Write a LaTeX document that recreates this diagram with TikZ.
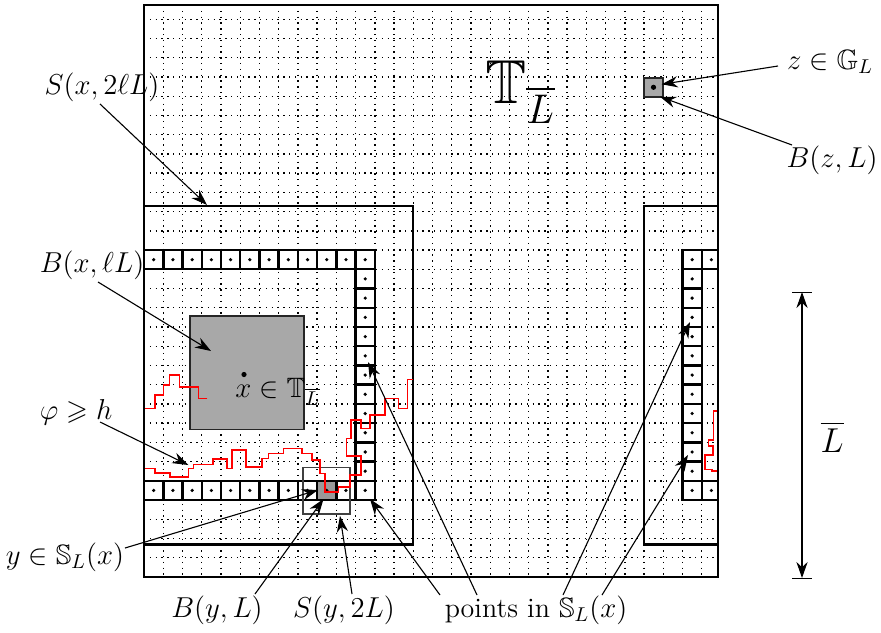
\documentclass[tikz,border=0pt]{standalone}
\usepackage{amsmath,amssymb}
\usetikzlibrary{arrows.meta}
\newcommand\rcell[2]{%
  \draw[ringcell] ({163.3+19.23*#1},{19.3+19.23*#2}) rectangle ++(19.23,19.23);
  \fill ({163.3+19.23*(#1+0.5)},{19.3+19.23*(#2+0.5)}) circle[radius=0.9pt];}
\begin{document}
\begin{tikzpicture}[x=0.5pt,y=-0.5pt,
  font=\fontsize{14}{16}\selectfont,
  arr/.style={-{Stealth[length=8pt,width=5.6pt,inset=2.6pt]}, line width=0.55pt},
  griddot/.style={line width=0.7pt, dash pattern=on 0.7pt off 2.2pt},
  ringcell/.style={draw, line width=1.2pt},
  bigbox/.style={line width=1.1pt},
  redpath/.style={draw=red, line width=0.8pt},
  lab/.style={inner sep=1pt}]
\useasboundingbox (0,0) rectangle (881,632);
\begin{scope}
\clip (144,5) rectangle (718,577);
\foreach \i in {0,...,28} {
  \draw[griddot] ({163.3+19.23*\i},5) -- ({163.3+19.23*\i},577);
  \draw[griddot] (144,{19.3+19.23*\i}) -- (718,{19.3+19.23*\i});
}
% B(x, lL)
\draw[fill=black!34, draw=black!85, line width=0.9pt] (190,316) rectangle (304.3,429.5);
\fill (244,374.5) circle[radius=1.3pt];
% B(z,L)
\draw[fill=black!34, draw=black!85, line width=0.9pt] (644,77.6) rectangle (663.3,96.8);
\fill (653.5,87.3) circle[radius=1.3pt];
% y cell
\fill[black!40] (317.1,480.8) rectangle (336.4,500.05);
% ring cells
\foreach \i in {-1,...,10} { \rcell{\i}{12} \rcell{\i}{24} }
\foreach \j in {13,...,23} { \rcell{10}{\j} \rcell{27}{\j} }
\rcell{27}{12} \rcell{27}{24} \rcell{28}{12} \rcell{28}{24}
% S(y,2L)
\draw[black!75, line width=0.7pt] (303,467.7) rectangle (350,514);
% S(x, 2lL)
\draw[bigbox] (144,206) -- (413.3,206) -- (413.3,544.5) -- (144,544.5);
\draw[bigbox] (718,206) -- (644,206) -- (644,544.5) -- (718,544.5);
% red paths
\draw[redpath] (207.3,398.3) -- (198.3,398.3) -- (198.3,386.7) -- (179.3,386.7) -- (179.3,375) -- (169.5,375) -- (169.5,385) -- (163.3,385) -- (163.3,395) -- (155,395) -- (155,408.3) -- (144,408.3);
\draw[redpath] (718,410.7) -- (713.3,410.7) -- (713.3,440) -- (708.3,440) -- (708.3,446) -- (712.7,446) -- (712.7,455) -- (705,455) -- (705,469.3) -- (711.7,469.3) -- (711.7,471) -- (718,471);
\draw[redpath] (144,468.3) -- (155,468.3) -- (155,472.7) -- (170,472.7) -- (170,476.7) -- (188.3,476.7) -- (188.3,468.3) -- (193.3,468.3) -- (193.3,464.5) -- (212.7,464.5) -- (212.7,459) -- (226.7,459) -- (226.7,468.3) -- (231.7,468.3) -- (231.7,450) -- (245.7,450) -- (245.7,466.7) -- (261.7,466.7) -- (261.7,458.3) -- (268.3,458.3) -- (268.3,453.3) -- (283.3,453.3) -- (283.3,448.3) -- (301.7,448.3) -- (301.7,453.3) -- (311.7,453.3) -- (311.7,460) -- (320,460) -- (320,473.3) -- (325,473.3) -- (325,491.7) -- (338.3,491.7) -- (338.3,486.7) -- (350,486.7) -- (350,475) -- (360.7,475) -- (360.7,456) -- (346.5,456) -- (346.5,438.3) -- (350.7,438.3) -- (350.7,420) -- (360.7,420) -- (360.7,428.3) -- (370,428.3) -- (370,415) -- (385,415) -- (385,398.3) -- (398.3,398.3) -- (398.3,408.3) -- (407.3,408.3) -- (407.3,379.3) -- (413.3,379.3);
\end{scope}
\draw[line width=1.1pt] (144,5) rectangle (718,577);
% labels
\node[lab] (TT) at (520,92) {\fontsize{31}{34}\selectfont $\mathbb{T}_{\overline{L}}$};
\node[lab, anchor=north west] (xl) at (233,376) {$x\in\mathbb{T}_{\overline{L}}$};
\node[lab] (lSx) at (102,87) {$S(x,2\ell L)$};
\node[lab] (lBx) at (92,265) {$B(x,\ell L)$};
\node[lab] (lphi) at (76,412) {$\varphi\geqslant h$};
\node[lab] (ly) at (65,557) {$y\in\mathbb{S}_L(x)$};
\node[lab] (lBy) at (217,610) {$B(y,L)$};
\node[lab] (lSy) at (344,610) {$S(y,2L)$};
\node[lab] (lpts) at (536,610) {points in $\mathbb{S}_L(x)$};
\node[lab] (lz) at (830,62) {$z\in\mathbb{G}_L$};
\node[lab] (lBz) at (832,160) {$B(z,L)$};
% arrow ends
\coordinate (sSx) at (100,104); \coordinate (tSx) at (207,205);
\coordinate (sBx) at (98,282); \coordinate (tBx) at (211,351);
\coordinate (sphi) at (100,422); \coordinate (tphi) at (188.3,465);
\coordinate (sy) at (125,548); \coordinate (ty) at (318,490);
\coordinate (sBy) at (255,594); \coordinate (tBy) at (323.5,499);
\coordinate (sSy) at (352,594); \coordinate (tSy) at (340,516);
\coordinate (sp1) at (440,595); \coordinate (tp1) at (370,499);
\coordinate (sp2) at (477,595); \coordinate (tp2) at (368,362);
\coordinate (sp3) at (563,595); \coordinate (tp3) at (690,322);
\coordinate (sp4) at (602,595); \coordinate (tp4) at (688,455);
\coordinate (sz) at (778,66); \coordinate (tz) at (661.7,84.3);
\coordinate (sBz) at (792,145); \coordinate (tBz) at (660,96.7);
\foreach \a/\b in {sSx/tSx, sBx/tBx, sphi/tphi, sy/ty, sBy/tBy, sSy/tSy, sp1/tp1, sp2/tp2, sp3/tp3, sp4/tp4, sz/tz, sBz/tBz}
  \draw[arr] (\a) -- (\b);
% L bar dimension
\coordinate (Lt) at (802,292); \coordinate (Lb) at (802,578);
\draw[line width=0.5pt] (792,292) -- (812,292);
\draw[line width=0.5pt] (792,578) -- (812,578);
\draw[line width=0.6pt, {Stealth[length=8pt,width=5.6pt,inset=2.6pt]}-{Stealth[length=8pt,width=5.6pt,inset=2.6pt]}] (Lt) -- (Lb);
\node[lab] (lL) at (832,437) {\fontsize{18}{20}\selectfont $\overline{L}$};
\end{tikzpicture}
\end{document}
